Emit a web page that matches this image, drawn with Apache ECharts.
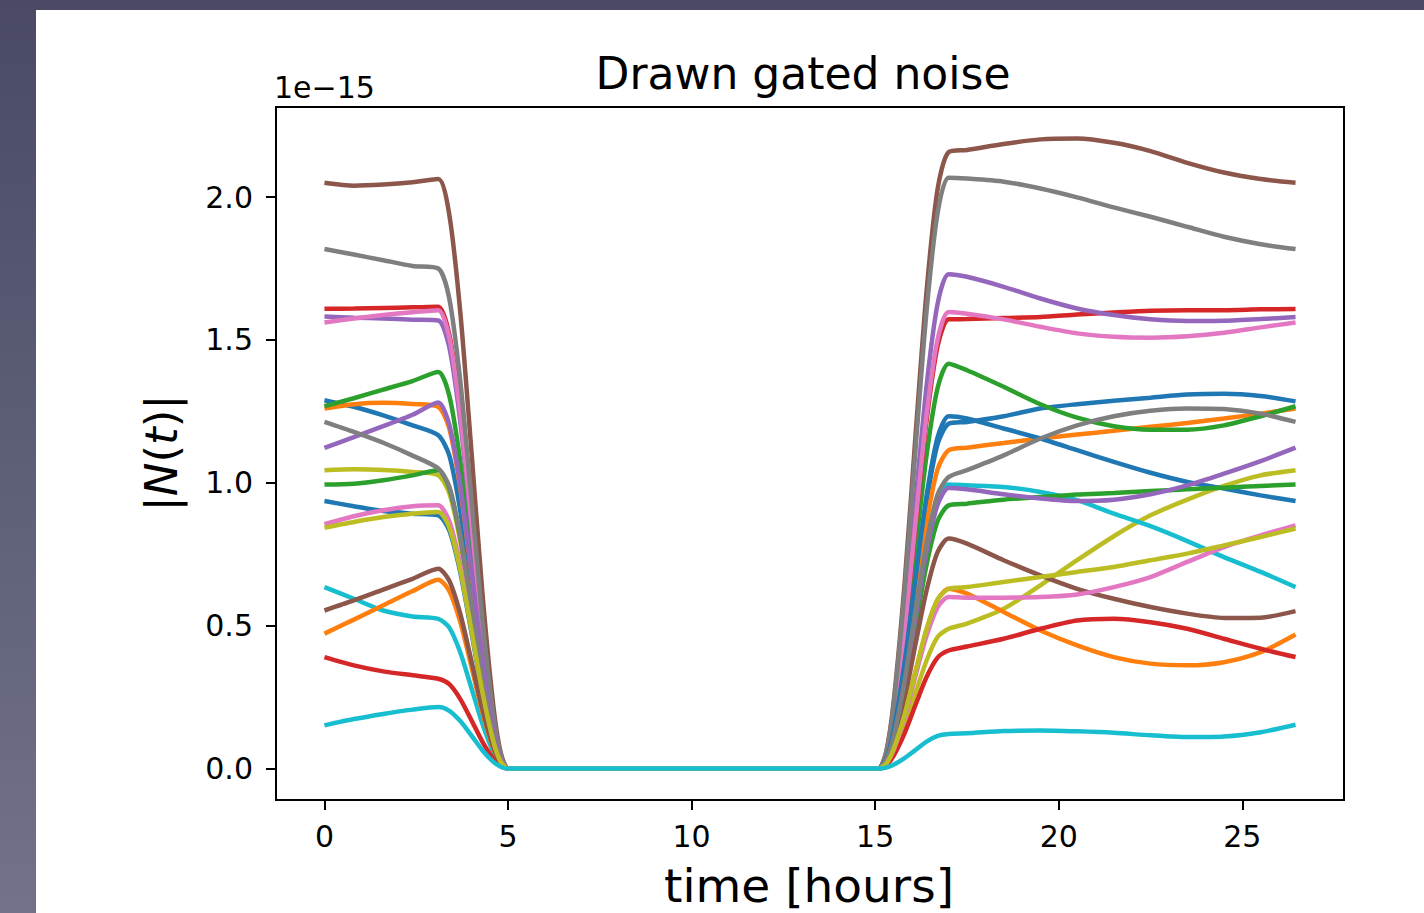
<!DOCTYPE html>
<html>
<head>
<meta charset="utf-8">
<title>Drawn gated noise</title>
<script src="https://cdn.jsdelivr.net/npm/echarts@6.0.0/dist/echarts.min.js"></script>
<style>
    html, body { margin: 0; padding: 0; width: 1424px; height: 913px; overflow: hidden; }
    body { position: relative; background: linear-gradient(to bottom, #4a4a67 0%, #5f6079 55%, #72738a 100%); }
    #paper { position: absolute; left: 36px; top: 10px; right: 0; bottom: 0; background: #ffffff; }
    #chart { position: absolute; left: 0; top: 0; width: 1424px; height: 913px; }
</style>
</head>
<body>
<div id="paper"></div>
<div id="chart"></div>
<script>
// sample times [hours]
var times = [0, 0.8, 1.6, 2.4, 3.1, 3.4, 3.7, 4.0, 4.3, 4.6, 4.8, 5.0, 5.2, 14.9, 15.1,
    15.3, 15.5, 15.8, 16.1, 16.4, 16.7, 17.0, 17.5, 18.5, 19.5, 20.5, 21.5, 22.5, 23.5, 24.5, 25.5, 26.45];

// |N(t)| in units of 1e-15, one array per drawn noise
var blueA = [1.289, 1.266, 1.236, 1.201, 1.166, 1.096, 0.902, 0.631, 0.349, 0.124, 0.031, 0, 0, 0, 0,
    0.033, 0.128, 0.361, 0.653, 0.934, 1.135, 1.207, 1.213, 1.233, 1.260, 1.275, 1.287, 1.298, 1.309, 1.312, 1.304, 1.285];
var orangeA = [1.260, 1.275, 1.280, 1.276, 1.266, 1.190, 0.980, 0.685, 0.379, 0.134, 0.034, 0, 0, 0, 0,
    0.030, 0.118, 0.333, 0.603, 0.862, 1.047, 1.114, 1.123, 1.139, 1.155, 1.169, 1.182, 1.196, 1.209, 1.225, 1.242, 1.260];
var greenA = [1.268, 1.296, 1.326, 1.356, 1.388, 1.305, 1.074, 0.751, 0.415, 0.147, 0.037, 0, 0, 0, 0,
    0.038, 0.150, 0.424, 0.767, 1.097, 1.332, 1.417, 1.394, 1.336, 1.275, 1.228, 1.198, 1.186, 1.186, 1.201, 1.233, 1.268];
var redA = [1.609, 1.610, 1.612, 1.614, 1.616, 1.519, 1.251, 0.874, 0.483, 0.171, 0.044, 0, 0, 0, 0,
    0.042, 0.167, 0.470, 0.850, 1.217, 1.478, 1.572, 1.573, 1.577, 1.580, 1.589, 1.596, 1.602, 1.604, 1.604, 1.607, 1.608];
var purpleA = [1.582, 1.578, 1.575, 1.571, 1.568, 1.474, 1.214, 0.848, 0.469, 0.166, 0.042, 0, 0, 0, 0,
    0.047, 0.183, 0.517, 0.936, 1.339, 1.626, 1.730, 1.721, 1.686, 1.645, 1.610, 1.587, 1.572, 1.566, 1.567, 1.573, 1.580];
var brownA = [2.050, 2.040, 2.044, 2.052, 2.063, 1.939, 1.597, 1.116, 0.617, 0.219, 0.056, 0, 0, 0, 0,
    0.058, 0.229, 0.645, 1.167, 1.670, 2.028, 2.157, 2.165, 2.186, 2.202, 2.205, 2.190, 2.161, 2.120, 2.086, 2.063, 2.050];
var pinkA = [1.561, 1.575, 1.587, 1.597, 1.604, 1.508, 1.241, 0.868, 0.480, 0.170, 0.043, 0, 0, 0, 0,
    0.043, 0.169, 0.478, 0.865, 1.237, 1.502, 1.598, 1.592, 1.572, 1.546, 1.523, 1.511, 1.508, 1.513, 1.525, 1.544, 1.561];
var grayA = [1.818, 1.799, 1.779, 1.759, 1.750, 1.645, 1.355, 0.947, 0.523, 0.186, 0.047, 0, 0, 0, 0,
    0.056, 0.219, 0.618, 1.119, 1.601, 1.944, 2.068, 2.065, 2.054, 2.030, 1.999, 1.964, 1.931, 1.896, 1.861, 1.835, 1.818];
var oliveA = [1.044, 1.047, 1.045, 1.038, 1.026, 0.964, 0.794, 0.555, 0.307, 0.109, 0.028, 0, 0, 0, 0,
    0.013, 0.052, 0.146, 0.265, 0.378, 0.460, 0.489, 0.507, 0.559, 0.641, 0.729, 0.813, 0.886, 0.941, 0.989, 1.026, 1.044];
var cyanA = [0.635, 0.594, 0.553, 0.532, 0.524, 0.493, 0.406, 0.283, 0.157, 0.056, 0.014, 0, 0, 0, 0,
    0.027, 0.105, 0.297, 0.538, 0.769, 0.934, 0.994, 0.991, 0.985, 0.968, 0.939, 0.892, 0.848, 0.796, 0.740, 0.688, 0.635];
var blueB = [0.936, 0.918, 0.901, 0.892, 0.886, 0.833, 0.686, 0.479, 0.265, 0.094, 0.024, 0, 0, 0, 0,
    0.033, 0.131, 0.369, 0.667, 0.954, 1.159, 1.233, 1.225, 1.190, 1.155, 1.114, 1.073, 1.035, 1.003, 0.980, 0.956, 0.936];
var orangeB = [0.472, 0.521, 0.571, 0.621, 0.661, 0.621, 0.512, 0.358, 0.198, 0.070, 0.018, 0, 0, 0, 0,
    0.017, 0.067, 0.188, 0.340, 0.487, 0.591, 0.629, 0.612, 0.548, 0.483, 0.431, 0.390, 0.367, 0.361, 0.372, 0.407, 0.469];
var greenB = [0.994, 0.997, 1.009, 1.026, 1.044, 0.981, 0.808, 0.565, 0.312, 0.111, 0.028, 0, 0, 0, 0,
    0.025, 0.098, 0.275, 0.498, 0.713, 0.866, 0.921, 0.927, 0.941, 0.950, 0.959, 0.964, 0.971, 0.977, 0.983, 0.989, 0.994];
var redB = [0.390, 0.361, 0.340, 0.326, 0.314, 0.295, 0.243, 0.170, 0.094, 0.033, 0.008, 0, 0, 0, 0,
    0.011, 0.044, 0.123, 0.223, 0.320, 0.388, 0.413, 0.427, 0.454, 0.489, 0.518, 0.524, 0.512, 0.489, 0.454, 0.419, 0.390];
var purpleB = [1.122, 1.160, 1.198, 1.238, 1.281, 1.204, 0.991, 0.693, 0.383, 0.136, 0.035, 0, 0, 0, 0,
    0.027, 0.104, 0.294, 0.531, 0.760, 0.923, 0.982, 0.977, 0.960, 0.945, 0.936, 0.941, 0.960, 0.991, 1.032, 1.076, 1.123];
var brownB = [0.553, 0.588, 0.626, 0.664, 0.699, 0.657, 0.541, 0.378, 0.209, 0.074, 0.019, 0, 0, 0, 0,
    0.022, 0.085, 0.241, 0.436, 0.623, 0.757, 0.805, 0.787, 0.729, 0.676, 0.629, 0.594, 0.565, 0.542, 0.527, 0.528, 0.551];
var pinkB = [0.855, 0.883, 0.904, 0.918, 0.921, 0.866, 0.713, 0.498, 0.275, 0.098, 0.025, 0, 0, 0, 0,
    0.016, 0.064, 0.179, 0.325, 0.464, 0.564, 0.600, 0.598, 0.598, 0.600, 0.609, 0.635, 0.670, 0.723, 0.775, 0.816, 0.851];
var grayB = [1.213, 1.178, 1.140, 1.095, 1.050, 0.987, 0.813, 0.568, 0.314, 0.111, 0.028, 0, 0, 0, 0,
    0.028, 0.108, 0.305, 0.552, 0.789, 0.959, 1.020, 1.044, 1.096, 1.155, 1.201, 1.233, 1.252, 1.260, 1.258, 1.242, 1.213];
var oliveB = [0.843, 0.863, 0.880, 0.892, 0.898, 0.844, 0.695, 0.486, 0.269, 0.095, 0.024, 0, 0, 0, 0,
    0.017, 0.067, 0.188, 0.340, 0.487, 0.591, 0.629, 0.635, 0.653, 0.670, 0.688, 0.705, 0.729, 0.752, 0.781, 0.810, 0.840];
var cyanB = [0.151, 0.173, 0.191, 0.206, 0.215, 0.202, 0.166, 0.116, 0.064, 0.023, 0.006, 0, 0, 0, 0,
    0.003, 0.013, 0.036, 0.065, 0.094, 0.114, 0.121, 0.123, 0.131, 0.133, 0.130, 0.125, 0.116, 0.110, 0.112, 0.127, 0.153];

// tick labels
var xTicks = [0, 5, 10, 15, 20, 25];
var yTicks = [0, 0.5, 1.0, 1.5, 2.0];

// draw order as in matplotlib (tab10 cycle twice)
var drawn = [blueA, orangeA, greenA, redA, purpleA, brownA, pinkA, grayA, oliveA, cyanA,
    blueB, orangeB, greenB, redB, purpleB, brownB, pinkB, grayB, oliveB, cyanB];

var font = 'DejaVu Sans';
var chart = echarts.init(document.getElementById('chart'), null, {renderer: 'svg'});

var series = drawn.map(function (vals, k) {
    return {
        name: 'noise ' + (k + 1),
        type: 'line',
        showSymbol: false,
        smooth: 0.25,
        lineStyle: {width: 4.5},
        data: times.map(function (t, i) { return [t, vals[i]]; })
    };
});

var option = {
    backgroundColor: 'transparent',
    animation: false,
    color: ['#1f77b4', '#ff7f0e', '#2ca02c', '#d62728', '#9467bd',
        '#8c564b', '#e377c2', '#7f7f7f', '#bcbd22', '#17becf'],
    grid: {
        left: 276, top: 107, width: 1068, height: 693,
        show: true, borderColor: '#000', borderWidth: 2, backgroundColor: 'transparent'
    },
    xAxis: {
        type: 'value',
        min: -1.32, max: 27.77,
        axisLine: {show: false, onZero: false},
        splitLine: {show: false},
        axisTick: {show: true, length: 10, lineStyle: {color: '#000', width: 2}, customValues: xTicks},
        axisLabel: {
            customValues: xTicks, margin: 21,
            color: '#000', fontSize: 30, fontFamily: font,
            formatter: function (v) { return String(v); }
        }
    },
    yAxis: {
        type: 'value',
        min: -0.1103, max: 2.3153,
        axisLine: {show: false, onZero: false},
        splitLine: {show: false},
        axisTick: {show: true, length: 10, lineStyle: {color: '#000', width: 2}, customValues: yTicks},
        axisLabel: {
            customValues: yTicks, margin: 23,
            color: '#000', fontSize: 30, fontFamily: font,
            formatter: function (v) { return v.toFixed(1); }
        }
    },
    graphic: [
        {
            type: 'text', x: 803, y: 73,
            style: {text: 'Drawn gated noise', fill: '#000', font: '44px "' + font + '"',
                align: 'center', verticalAlign: 'middle'}
        },
        {
            type: 'text', x: 274, y: 87,
            style: {text: '1e\u221215', fill: '#000', font: '30px "' + font + '"',
                align: 'left', verticalAlign: 'middle'}
        },
        {
            type: 'text', x: 809, y: 885,
            style: {text: 'time [hours]', fill: '#000', font: '47px "' + font + '"',
                align: 'center', verticalAlign: 'middle'}
        },
        {
            type: 'text', x: 161, y: 453, rotation: Math.PI / 2,
            style: {
                text: '|{i|N}({i|t})|', fill: '#000', fontSize: 45, fontFamily: font,
                align: 'center', verticalAlign: 'middle',
                rich: {i: {fontSize: 45, fontFamily: font, fontStyle: 'italic', fill: '#000'}}
            }
        }
    ],
    series: series
};

chart.setOption(option);
</script>
</body>
</html>
